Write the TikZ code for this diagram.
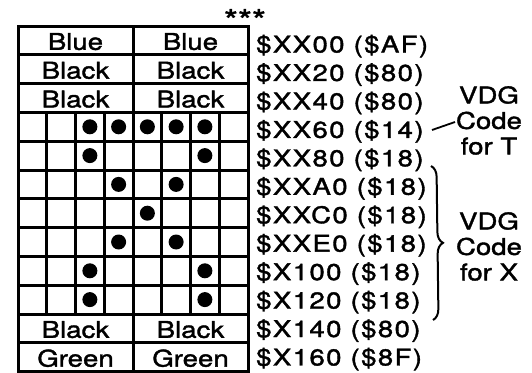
\documentclass[tikz,border=0pt]{standalone}
\usepackage{fontspec}
\setmainfont{TeX Gyre Heros}[FakeStretch=1.2,FakeBold=1.6]
\newfontfamily\addrfont{TeX Gyre Heros}[FakeStretch=1.2,FakeBold=1.6,LetterSpace=6]
\usetikzlibrary{decorations.pathreplacing}
\begin{document}
\begin{tikzpicture}[x=1pt,y=-1pt,
  gridline/.style={line width=3pt,line cap=rect},
  dot/.style={circle,fill=black,inner sep=0pt,minimum size=15pt},
  celltext/.style={anchor=base,inner sep=0pt,font=\fontsize{23}{25}\selectfont},
  addr/.style={anchor=base west,inner sep=0pt,font=\addrfont\fontsize{23}{25}\selectfont},
  note/.style={align=center,inner sep=0pt,font=\fontsize{23}{25.5}\selectfont},
  stars/.style={anchor=base,inner sep=0pt,font=\fontsize{30}{30}\selectfont},
  thinline/.style={line width=1.8pt},
  bracestyle/.style={line width=2pt,decorate,decoration={brace,amplitude=11pt}}]
\useasboundingbox (0,0) rectangle (532,372);
% horizontal grid lines
\foreach \k in {0,...,12}
  \draw[gridline] (18,26+\k*28.8) -- (248,26+\k*28.8);
% full-height vertical lines
\foreach \x in {18,133,248}
  \draw[gridline] (\x,26) -- (\x,371.6);
% inner vertical lines (dot rows)
\foreach \c in {1,2,3,5,6,7}
  \draw[gridline] (18+\c*28.75,112.4) -- (18+\c*28.75,314);
% dots
\foreach \c/\r in {3/4,4/4,5/4,6/4,7/4,3/5,7/5,4/6,6/6,5/7,4/8,6/8,3/9,7/9,3/10,7/10}
  \node[dot] (d-\c-\r) at (18+\c*28.75-14.375,26+\r*28.8-14.4) {};
% colour cells
\foreach \r/\t in {1/Blue,2/Black,3/Black,11/Black,12/Green}{
  \node[celltext] (l-\r) at (75.5,26+\r*28.8-5) {\t};
  \node[celltext] (r-\r) at (190.5,26+\r*28.8-5) {\t};
}
% addresses
\foreach \i/\t in {1/{\$XX00 (\$AF)},2/{\$XX20 (\$80)},3/{\$XX40 (\$80)},4/{\$XX60 (\$14)},
  5/{\$XX80 (\$18)},6/{\$XXA0 (\$18)},7/{\$XXC0 (\$18)},8/{\$XXE0 (\$18)},
  9/{\$X100 (\$18)},10/{\$X120 (\$18)},11/{\$X140 (\$80)},12/{\$X160 (\$8F)}}
  \node[addr] (a-\i) at (256,52.5+\i*28.45-28.45) {\t};
% stars
\node[stars] (st) at (245,31) {***};
% VDG code for T
\node[note,anchor=north] (vdgT) at (489,86) {VDG\\Code\\for T};
\coordinate (tA) at (432,130);
\coordinate (tB) at (455,122);
\draw[thinline] (tA) -- (tB);
% VDG code for X
\node[note,anchor=north] (vdgX) at (489,212) {VDG\\Code\\for X};
\coordinate (bTop) at (431,166);
\coordinate (bBot) at (433,320);
\draw[bracestyle] (bTop) -- (bBot);
\end{tikzpicture}
\end{document}
